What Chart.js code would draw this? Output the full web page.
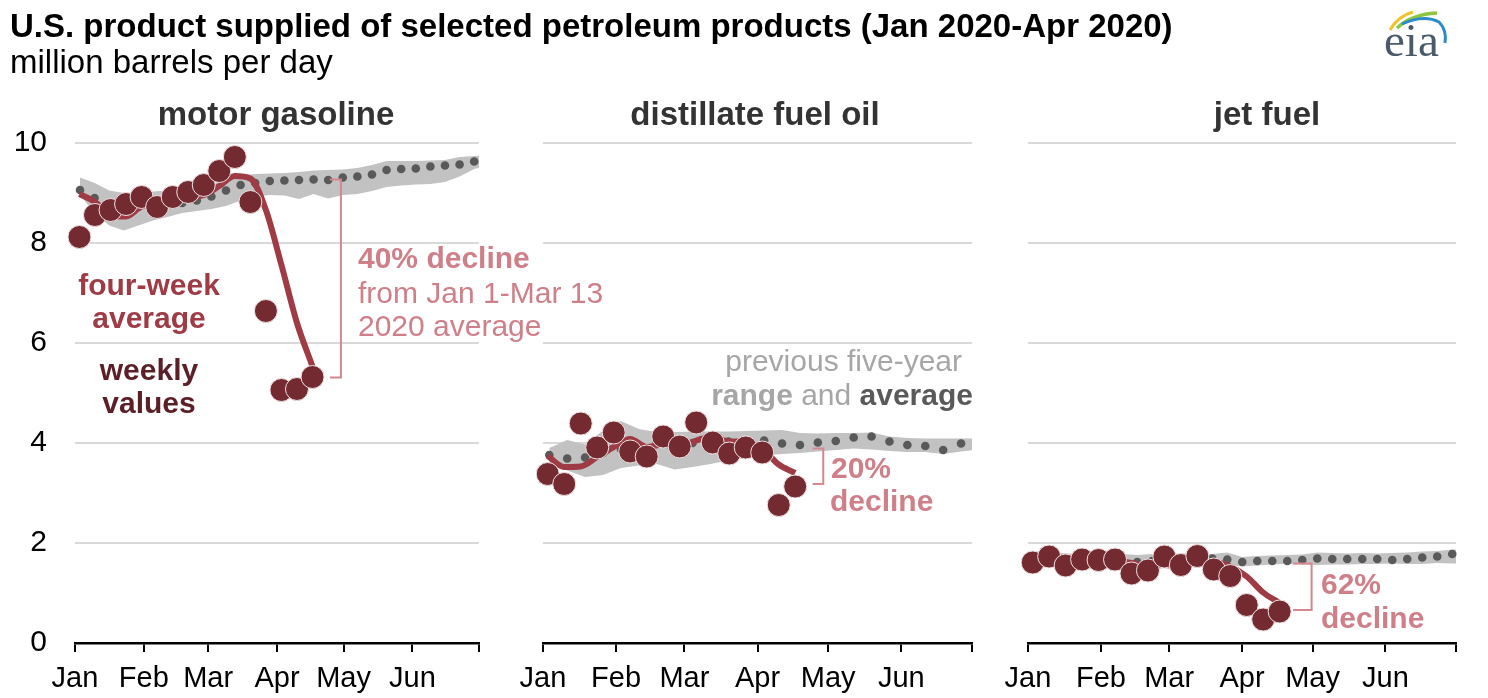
<!DOCTYPE html>
<html>
<head>
<meta charset="utf-8">
<script src="https://cdn.jsdelivr.net/npm/chart.js@4.4.1/dist/chart.umd.min.js"></script>
<style>
  body { margin: 0; background: #fff; width: 1488px; height: 698px; overflow: hidden; position: relative;
         font-family: "Liberation Sans", Arial, sans-serif; }
  canvas { position: absolute; left: 0; top: 0; }
  .t { position: absolute; white-space: nowrap; line-height: 1; }
  .b { font-weight: bold; }
  .pink { color: #cf7f88; }
</style>
</head>
<body>
<canvas id="gas" width="1488" height="698"></canvas>
<canvas id="dist" width="1488" height="698"></canvas>
<canvas id="jet" width="1488" height="698"></canvas>

<div class="t b" style="left:10px;top:9px;font-size:33px;color:#000;">U.S. product supplied of selected petroleum products (Jan 2020-Apr 2020)</div>
<div class="t" style="left:10px;top:45px;font-size:33px;color:#000;">million barrels per day</div>

<div class="t b" style="left:76px;width:400px;text-align:center;top:97px;font-size:33px;color:#333;">motor gasoline</div>
<div class="t b" style="left:555px;width:400px;text-align:center;top:97px;font-size:33px;color:#333;">distillate fuel oil</div>
<div class="t b" style="left:1067px;width:400px;text-align:center;top:97px;font-size:33px;color:#333;">jet fuel</div>

<div class="t b" style="left:-1px;width:300px;text-align:center;top:270px;font-size:30px;color:#9e3b45;">four-week</div>
<div class="t b" style="left:-1px;width:300px;text-align:center;top:303px;font-size:30px;color:#9e3b45;">average</div>
<div class="t b" style="left:-1px;width:300px;text-align:center;top:355px;font-size:30px;color:#5b1f27;">weekly</div>
<div class="t b" style="left:-1px;width:300px;text-align:center;top:388px;font-size:30px;color:#5b1f27;">values</div>

<div class="t b pink" style="left:358px;top:243px;font-size:30px;">40% decline</div>
<div class="t pink" style="left:358px;top:278px;font-size:30px;">from Jan 1-Mar 13</div>
<div class="t pink" style="left:358px;top:311px;font-size:30px;">2020 average</div>

<div class="t" style="right:526px;top:346px;font-size:30px;color:#a6a6a6;">previous five-year</div>
<div class="t" style="right:515px;top:380px;font-size:30px;color:#a6a6a6;"><span class="b">range</span> and <span class="b" style="color:#595959;">average</span></div>

<div class="t b pink" style="left:831px;top:453px;font-size:30px;">20%</div>
<div class="t b pink" style="left:830px;top:486px;font-size:30px;">decline</div>
<div class="t b pink" style="left:1321px;top:569px;font-size:30px;">62%</div>
<div class="t b pink" style="left:1321px;top:603px;font-size:30px;">decline</div>

<svg style="position:absolute;left:1376px;top:0;" width="112" height="70">
  <path d="M14,30 Q22,16 37,12" stroke="#f2c12e" stroke-width="3" fill="none"/>
  <path d="M21,28 Q36,14 61,13" stroke="#8cc63f" stroke-width="3.5" fill="none"/>
  <path d="M26,24 Q48,14 63,22 Q71,30 69,43" stroke="#2e8bc9" stroke-width="3" fill="none"/>
  <text x="8" y="56" font-family="Liberation Serif, serif" font-size="47" fill="#4b5a6b">eia</text>
</svg>

<script>
// weeks ending (2020)
const weekEnding = ['2020-01-03', '2020-01-10', '2020-01-17', '2020-01-24', '2020-01-31', '2020-02-07',
  '2020-02-14', '2020-02-21', '2020-02-28', '2020-03-06', '2020-03-13', '2020-03-20', '2020-03-27',
  '2020-04-03', '2020-04-10', '2020-04-17'];

// axis ticks: day of year at month starts
const monthStarts = [0, 31, 60, 91, 121, 152, 182];
const monthLabels = ['Jan', 'Feb', 'Mar', 'Apr', 'May', 'Jun', ''];
const yTicks = [0, 2, 4, 6, 8, 10];

// motor gasoline
const gasolineWeekly = [8.12, 8.56, 8.66, 8.78, 8.92, 8.72, 8.92, 9.02, 9.16, 9.44, 9.72, 8.82, 6.64, 5.06, 5.08, 5.32];
const gasolineFourWeek = [8.98, 8.82, 8.56, 8.53, 8.73, 8.77, 8.84, 8.9, 8.96, 9.14, 9.34, 9.29, 8.66, 7.56, 6.4, 5.53];
const gasolineAvg = [9.06, 8.9, 8.78, 8.72, 8.72, 8.74, 8.78, 8.8, 8.85, 8.93, 9.05, 9.16, 9.2, 9.24, 9.25,
  9.26, 9.27, 9.26, 9.31, 9.33, 9.37, 9.46, 9.48, 9.49, 9.53, 9.55, 9.57, 9.63];
const gasolineLow = [8.96, 8.6, 8.35, 8.25, 8.35, 8.45, 8.52, 8.6, 8.64, 8.68, 8.74, 8.85, 8.93, 8.96, 8.95,
  8.88, 8.98, 8.89, 8.96, 8.98, 9.04, 9.12, 9.15, 9.17, 9.18, 9.22, 9.33, 9.48, 9.55];
const gasolineHigh = [9.31, 9.2, 9.05, 9.0, 9.0, 9.03, 9.05, 9.08, 9.1, 9.15, 9.3, 9.35, 9.38, 9.39, 9.4,
  9.42, 9.45, 9.46, 9.47, 9.5, 9.56, 9.64, 9.64, 9.64, 9.65, 9.66, 9.72, 9.74, 9.76];

// distillate fuel oil
const distillateWeekly = [3.38, 3.18, 4.39, 3.91, 4.21, 3.83, 3.73, 4.13, 3.93, 4.41, 4.01, 3.79, 3.91, 3.81, 2.76, 3.13];
const distillateFourWeek = [3.74, 3.52, 3.53, 3.72, 3.92, 4.08, 3.92, 3.97, 3.9, 4.05, 4.12, 4.03, 4.03, 3.88, 3.57, 3.4];
const distillateAvg = [3.76, 3.69, 3.71, 3.8, 3.88, 3.95, 4.0, 3.98, 4.0, 4.02, 4.03, 4.04, 4.05, 3.99, 3.96,
  4.01, 4.04, 4.11, 4.13, 4.03, 3.96, 3.94, 3.86, 3.99];
const distillateLow = [3.62, 3.45, 3.32, 3.36, 3.5, 3.55, 3.58, 3.47, 3.52, 3.58, 3.65, 3.7, 3.75, 3.78, 3.8,
  3.83, 3.86, 3.89, 3.87, 3.84, 3.82, 3.82, 3.78, 3.83, 3.87];
const distillateHigh = [3.9, 4.06, 3.97, 4.25, 4.44, 4.28, 4.22, 4.22, 4.23, 4.23, 4.23, 4.24, 4.25, 4.26, 4.2,
  4.19, 4.2, 4.2, 4.21, 4.13, 4.1, 4.09, 4.09, 4.09, 4.09];

// jet fuel
const jetWeekly = [1.61, 1.73, 1.55, 1.67, 1.66, 1.67, 1.39, 1.45, 1.73, 1.56, 1.74, 1.47, 1.34, 0.76, 0.47, 0.63];
const jetFourWeek = [1.68, 1.66, 1.64, 1.64, 1.65, 1.64, 1.6, 1.54, 1.56, 1.53, 1.62, 1.62, 1.53, 1.33, 1.01, 0.8];
const jetAvg = [1.72, 1.72, 1.68, 1.66, 1.66, 1.68, 1.66, 1.62, 1.64, 1.66, 1.68, 1.69, 1.69, 1.67, 1.62,
  1.64, 1.64, 1.64, 1.66, 1.69, 1.68, 1.68, 1.68, 1.68, 1.66, 1.68, 1.71, 1.73, 1.78];
const jetLow = [1.52, 1.52, 1.5, 1.5, 1.52, 1.52, 1.5, 1.48, 1.5, 1.52, 1.55, 1.57, 1.59, 1.56, 1.53,
  1.55, 1.57, 1.58, 1.57, 1.56, 1.57, 1.57, 1.58, 1.58, 1.59, 1.58, 1.58, 1.6, 1.59, 1.59];
const jetHigh = [1.82, 1.84, 1.8, 1.78, 1.78, 1.8, 1.78, 1.76, 1.78, 1.78, 1.79, 1.8, 1.78, 1.81, 1.72,
  1.74, 1.75, 1.76, 1.77, 1.81, 1.8, 1.79, 1.8, 1.79, 1.8, 1.81, 1.83, 1.84, 1.87, 1.88];

Chart.defaults.font.family = '"Liberation Sans", Arial, sans-serif';

const dayOf = s => (Date.UTC(+s.slice(0, 4), +s.slice(5, 7) - 1, +s.slice(8, 10)) - Date.UTC(2020, 0, 1)) / 864e5;
const weekly = vals => vals.map((v, i) => ({ x: dayOf(weekEnding[i]), y: v }));
const indexed = vals => vals.map((v, i) => ({ x: i, y: v }));

// bracket marking the decline
const bracketPlugin = {
  id: 'bracket',
  afterDatasetsDraw(chart, args, b) {
    if (b.day == null) return;
    const xs = chart.scales.x, ys = chart.scales.y, ctx = chart.ctx;
    const px = xs.getPixelForValue(b.day), pl = xs.getPixelForValue(b.day - b.tick);
    const pt = ys.getPixelForValue(b.top), pb = ys.getPixelForValue(b.bottom);
    ctx.save();
    ctx.strokeStyle = '#d4878f';
    ctx.lineWidth = 2;
    ctx.beginPath();
    ctx.moveTo(pl, pt); ctx.lineTo(px, pt); ctx.lineTo(px, pb); ctx.lineTo(pl, pb);
    ctx.stroke();
    ctx.restore();
  }
};

function makePanel(id, p) {
  new Chart(document.getElementById(id), {
    type: 'line',
    plugins: [bracketPlugin],
    data: {
      datasets: [
        { data: weekly(p.weekly), showLine: false, pointRadius: 11.5, pointBackgroundColor: '#732a31',
          pointBorderColor: '#f0e2e3', pointBorderWidth: 1, order: 0, clip: false },
        { data: weekly(p.fourWeek), borderColor: '#9e3b45', borderWidth: 6, pointRadius: 0,
          cubicInterpolationMode: 'monotone', order: 1, clip: false },
        { data: indexed(p.avg), xAxisID: 'x2', showLine: false, pointRadius: 4.3,
          pointBackgroundColor: '#595959', pointBorderWidth: 0, order: 2, clip: false },
        { data: indexed(p.high), xAxisID: 'x2', borderWidth: 0, pointRadius: 0, fill: '+1',
          backgroundColor: '#c2c2c2', order: 3 },
        { data: indexed(p.low), xAxisID: 'x2', borderWidth: 0, pointRadius: 0, fill: false, order: 4 }
      ]
    },
    options: {
      responsive: false,
      animation: false,
      events: [],
      layout: { padding: { left: p.padLeft, right: p.padRight, top: 143, bottom: 0 } },
      plugins: { legend: { display: false }, tooltip: { enabled: false }, bracket: p.bracket },
      scales: {
        x: {
          type: 'linear', min: 0, max: 182,
          afterBuildTicks: s => { s.ticks = monthStarts.map(v => ({ value: v })); },
          afterFit: s => { s.height = 55; },
          ticks: { callback: (v, i) => monthLabels[i], autoSkip: false, maxRotation: 0, padding: 10,
                   color: '#000', font: { size: 29 } },
          grid: { drawOnChartArea: false, drawTicks: true, tickLength: 9, color: '#000', lineWidth: 2 },
          border: { display: true, color: '#000', width: 2.5 }
        },
        x2: { type: 'linear', display: false, min: p.avgMin, max: p.avgMax },
        y: {
          min: 0, max: 10,
          afterBuildTicks: s => { s.ticks = yTicks.map(v => ({ value: v })); },
          afterFit: s => { s.width = p.yWidth; },
          ticks: { display: p.showY, padding: 28, color: '#000', font: { size: 30 } },
          grid: { color: c => c.tick.value === 0 ? 'rgba(0,0,0,0)' : '#d9d9d9', lineWidth: 2, drawTicks: false },
          border: { display: false }
        }
      }
    }
  });
}

makePanel('gas', {
  weekly: gasolineWeekly, fourWeek: gasolineFourWeek, avg: gasolineAvg, low: gasolineLow, high: gasolineHigh,
  padLeft: 0, padRight: 1009, yWidth: 75, showY: true, avgMin: -0.342, avgMax: 27.33,
  bracket: { day: 119.8, tick: 5, top: 9.27, bottom: 5.31 }
});
makePanel('dist', {
  weekly: distillateWeekly, fourWeek: distillateFourWeek, avg: distillateAvg, low: distillateLow, high: distillateHigh,
  padLeft: 543, padRight: 516, yWidth: 0, showY: false, avgMin: -0.352, avgMax: 23.61,
  bracket: { day: 118.9, tick: 4.5, top: 3.89, bottom: 3.18 }
});
makePanel('jet', {
  weekly: jetWeekly, fourWeek: jetFourWeek, avg: jetAvg, low: jetLow, high: jetHigh,
  padLeft: 1028, padRight: 32, yWidth: 0, showY: false, avgMin: -0.287, avgMax: 28.25,
  bracket: { day: 120.6, tick: 7.9, top: 1.59, bottom: 0.66 }
});
</script>
</body>
</html>
